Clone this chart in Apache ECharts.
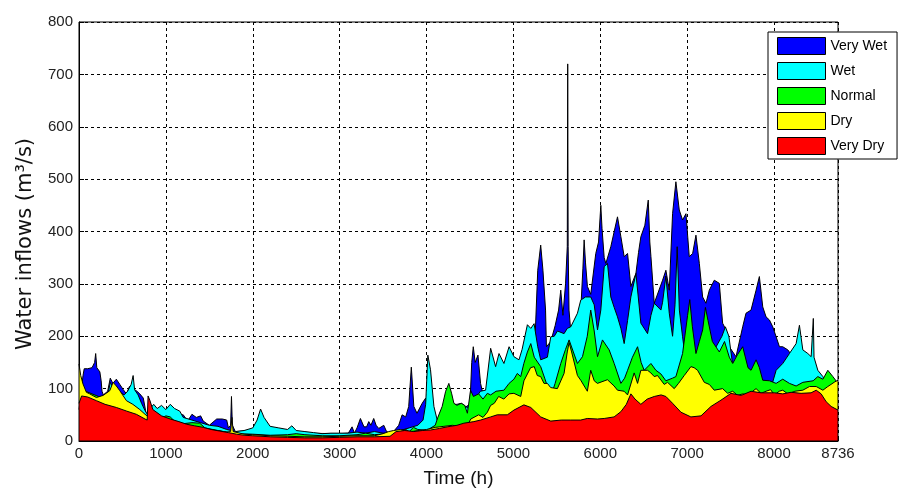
<!DOCTYPE html>
<html><head><meta charset="utf-8">
<script src="https://cdn.jsdelivr.net/npm/echarts@6/dist/echarts.min.js"></script>
<style>html,body{margin:0;padding:0;background:#fff}#c{width:908px;height:491px}</style>
</head><body><div id="c"></div>
<script>
const seriesNames = ['Very Wet', 'Wet', 'Normal', 'Dry', 'Very Dry'];
const xTicks = [0, 1000, 2000, 3000, 4000, 5000, 6000, 7000, 8000, 8736];

// [hour, inflow m3/s]
const veryWet = [[0,60],[30,100],[46,125],[60,138],[100,138],[150,140],[180,150],[192,167],[205,140],[240,132],[255,115],[265,95],[280,88],[330,95],[360,120],[390,110],[430,118],[470,108],[510,98],[546,90],[580,104],[620,100],[660,96],[700,90],[740,82],[770,55],[800,48],[850,55],[900,56],[950,50],[1000,55],[1100,50],[1200,50],[1250,38],[1300,51],[1350,45],[1400,48],[1430,38],[1500,30],[1585,42],[1650,42],[1700,40],[1720,25],[1745,30],[1755,85],[1765,30],[1800,18],[2000,20],[2500,15],[3000,14],[3100,15],[3143,27],[3170,15],[3200,25],[3239,43],[3280,27],[3310,27],[3335,37],[3360,30],[3392,43],[3420,30],[3450,24],[3508,30],[3540,18],[3600,14],[3680,30],[3719,50],[3760,46],[3795,66],[3825,141],[3854,66],[3890,53],[3950,72],[3990,82],[4010,60],[4050,40],[4100,30],[4200,50],[4400,60],[4500,70],[4520,150],[4538,180],[4560,150],[4592,164],[4622,110],[4650,90],[5000,130],[5250,200],[5280,326],[5314,374],[5340,326],[5370,250],[5380,180],[5430,190],[5480,220],[5520,250],[5545,288],[5570,240],[5600,300],[5620,371],[5625,720],[5630,371],[5640,250],[5660,210],[5700,220],[5775,250],[5800,330],[5814,384],[5830,340],[5852,295],[5890,280],[5948,358],[5980,380],[6006,450],[6020,406],[6045,350],[6064,339],[6121,371],[6160,400],[6198,428],[6237,390],[6275,352],[6314,358],[6352,295],[6410,320],[6440,360],[6467,390],[6513,412],[6552,460],[6570,380],[6583,352],[6621,263],[6640,263],[6717,307],[6755,326],[6794,288],[6832,434],[6870,495],[6909,441],[6947,422],[6986,434],[7024,352],[7063,358],[7101,393],[7140,339],[7178,275],[7216,263],[7255,288],[7312,307],[7370,301],[7408,225],[7447,212],[7485,180],[7562,161],[7639,218],[7677,244],[7735,250],[7793,288],[7831,314],[7870,256],[7908,237],[7947,231],[7985,218],[8024,199],[8062,180],[8100,180],[8158,174],[8216,161],[8254,180],[8280,150],[8400,130],[8736,90]];

const wet = [[0,50],[300,80],[340,95],[360,112],[380,105],[420,100],[460,95],[520,88],[560,95],[600,108],[623,125],[640,98],[680,88],[720,72],[760,58],[790,50],[820,62],[860,70],[900,62],[950,68],[1000,60],[1050,70],[1100,62],[1160,57],[1200,45],[1300,40],[1400,35],[1500,30],[1600,28],[1700,22],[1800,18],[1900,20],[2000,25],[2050,40],[2090,61],[2130,45],[2200,28],[2300,25],[2400,22],[2450,29],[2500,20],[2600,18],[2700,16],[2800,14],[2900,15],[3000,15],[3100,15],[3200,17],[3300,15],[3400,18],[3500,15],[3600,15],[3700,20],[3800,25],[3900,30],[3960,40],[3990,70],[4015,164],[4046,136],[4085,66],[4123,40],[4160,55],[4250,70],[4350,70],[4400,72],[4450,66],[4500,60],[4560,80],[4620,95],[4680,97],[4738,177],[4795,142],[4834,167],[4891,148],[4950,180],[5006,161],[5064,155],[5100,175],[5161,222],[5200,215],[5238,224],[5280,180],[5314,155],[5391,160],[5430,199],[5470,200],[5507,210],[5583,205],[5620,215],[5660,218],[5737,244],[5775,269],[5830,275],[5890,275],[5930,260],[5968,212],[6006,250],[6045,333],[6083,339],[6121,275],[6160,255],[6198,237],[6237,215],[6275,186],[6314,230],[6352,275],[6410,320],[6467,225],[6544,205],[6583,240],[6621,263],[6698,250],[6717,265],[6755,315],[6794,244],[6832,200],[6860,260],[6885,371],[6910,250],[6947,199],[6986,150],[7100,150],[7200,160],[7300,170],[7400,200],[7440,218],[7480,200],[7520,150],[7600,150],[7700,140],[7800,120],[7900,110],[7980,110],[8024,135],[8100,148],[8177,167],[8254,186],[8292,221],[8331,174],[8389,167],[8427,161],[8445,160],[8452,234],[8460,160],[8504,135],[8562,123],[8600,110],[8736,100]];

const normal = [[0,100],[300,80],[600,60],[900,40],[960,44],[1000,48],[1050,46],[1100,38],[1200,33],[1300,35],[1390,34],[1450,25],[1600,20],[1700,17],[1800,14],[2000,13],[2200,11],[2400,12],[2500,14],[2600,12],[2800,10],[3000,10],[3200,12],[3300,15],[3400,12],[3600,15],[3700,20],[3760,22],[3800,18],[3850,26],[3900,22],[4000,20],[4100,30],[4130,45],[4180,66],[4220,95],[4257,110],[4290,90],[4315,72],[4350,68],[4400,72],[4440,68],[4470,53],[4507,97],[4540,85],[4600,90],[4650,80],[4700,91],[4738,88],[4800,95],[4891,97],[4950,110],[5006,118],[5045,129],[5084,123],[5120,148],[5161,170],[5200,186],[5240,160],[5314,142],[5360,120],[5430,85],[5480,110],[5545,148],[5600,175],[5641,193],[5690,170],[5737,148],[5795,161],[5850,200],[5890,250],[5930,210],[5968,161],[6025,193],[6102,174],[6160,148],[6237,110],[6280,120],[6314,135],[6370,160],[6429,180],[6470,150],[6505,135],[6583,148],[6640,135],[6698,128],[6755,115],[6832,120],[6870,123],[6947,167],[7005,240],[7030,270],[7060,218],[7101,167],[7140,190],[7178,212],[7210,255],[7240,230],[7290,190],[7370,170],[7430,190],[7485,160],[7524,148],[7580,165],[7639,180],[7700,140],[7735,135],[7793,155],[7831,140],[7870,116],[7947,115],[8024,110],[8100,118],[8177,110],[8254,105],[8331,112],[8450,115],[8504,123],[8562,118],[8619,135],[8677,123],[8736,110]];

const dry = [[0,147],[20,125],[46,109],[85,93],[123,90],[200,83],[277,87],[354,96],[392,112],[430,105],[470,96],[546,77],[620,70],[700,60],[760,51],[785,48],[850,52],[930,40],[1050,36],[1150,31],[1240,27],[1430,23],[1620,19],[1700,17],[1745,18],[1760,45],[1775,18],[1900,13],[2000,12],[2200,10],[2400,9],[2600,8],[2800,8],[3000,9],[3200,10],[3400,10],[3500,14],[3565,18],[3620,20],[3700,22],[3800,17],[3900,20],[4000,22],[4100,26],[4200,28],[4300,30],[4400,27],[4470,30],[4510,42],[4600,50],[4650,45],[4700,55],[4738,68],[4780,72],[4830,85],[4890,80],[4950,90],[5006,91],[5084,85],[5121,115],[5198,140],[5240,142],[5275,125],[5314,123],[5352,110],[5391,110],[5429,102],[5506,100],[5583,129],[5620,170],[5641,188],[5670,170],[5737,125],[5775,116],[5851,95],[5890,135],[5930,115],[5967,110],[6082,117],[6159,105],[6198,97],[6274,95],[6314,88],[6390,130],[6429,110],[6467,135],[6544,135],[6582,130],[6621,123],[6659,125],[6736,108],[6774,112],[6851,100],[6900,110],[6966,125],[7043,142],[7080,140],[7120,135],[7197,112],[7255,108],[7312,97],[7408,100],[7466,91],[7524,95],[7581,87],[7639,90],[7696,88],[7754,95],[7793,100],[7850,91],[7908,95],[7960,98],[8004,88],[8060,95],[8100,97],[8158,90],[8240,95],[8331,97],[8408,104],[8485,104],[8562,97],[8619,104],[8700,113],[8736,116]];

const veryDry = [[0,72],[30,86],[100,84],[200,77],[300,70],[430,64],[550,57],[660,51],[760,42],[785,40],[795,86],[815,78],[850,60],[950,48],[1050,42],[1150,37],[1240,32],[1330,29],[1430,26],[1520,22],[1620,19],[1720,16],[1815,13],[1900,11],[2000,10],[2200,8],[2400,7],[2600,6],[2800,6],[3000,7],[3200,8],[3400,8],[3580,9],[3650,18],[3750,20],[3854,18],[3950,20],[4046,21],[4150,24],[4238,27],[4350,30],[4430,34],[4545,37],[4622,40],[4738,46],[4814,50],[4930,50],[5006,59],[5121,69],[5200,64],[5314,46],[5430,38],[5550,40],[5660,40],[5775,40],[5850,43],[5967,42],[6045,43],[6159,46],[6237,56],[6300,70],[6352,90],[6400,80],[6467,70],[6540,80],[6621,85],[6700,88],[6755,85],[6832,72],[6928,55],[7043,46],[7159,48],[7274,66],[7389,78],[7504,91],[7620,87],[7735,95],[7850,92],[8004,92],[8100,90],[8196,93],[8311,91],[8426,92],[8485,97],[8542,90],[8600,75],[8657,66],[8736,59]];

const fillColors = ['#0000ff', '#00ffff', '#00ff00', '#ffff00', '#ff0000'];
const dataList = [veryWet, wet, normal, dry, veryDry];
const FONT = '"Liberation Sans", Arial, sans-serif';

const chart = echarts.init(document.getElementById('c'), null, {renderer: 'canvas'});
chart.setOption({
  animation: false,
  backgroundColor: '#fff',
  grid: {left: 79, right: 70, top: 22, bottom: 50, show: true, borderColor: '#000', borderWidth: 1,
    backgroundColor: 'transparent', z: 20, containLabel: false, outerBoundsMode: 'none'},
  xAxis: {
    type: 'value', min: 0, max: 8736, interval: 1000,
    name: 'Time (h)', nameLocation: 'middle', nameGap: 28,
    nameTextStyle: {fontSize: 19, color: '#111', fontFamily: FONT},
    axisLine: {show: true, onZero: false, lineStyle: {color: '#000'}},
    axisTick: {show: true, inside: true, length: 5, lineStyle: {color: '#000'}},
    axisLabel: {showMinLabel: true, showMaxLabel: true, fontSize: 15, color: '#222', fontFamily: FONT, margin: 5,
      formatter: v => xTicks.includes(v) ? String(v) : ''},
    splitLine: {show: true, lineStyle: {type: [3, 3], color: '#000', width: 1}}
  },
  yAxis: {
    type: 'value', min: 0, max: 800, interval: 100,
    name: 'Water inflows (m³/s)', nameLocation: 'middle', nameGap: 43,
    nameTextStyle: {fontSize: 21, color: '#111', fontFamily: '"DejaVu Sans", sans-serif', padding: [0, 25, 0, 0]},
    axisLine: {show: true, lineStyle: {color: '#000'}},
    axisTick: {show: true, inside: true, length: 5, lineStyle: {color: '#000'}},
    axisLabel: {fontSize: 15, color: '#222', fontFamily: FONT, margin: 6},
    splitLine: {show: true, lineStyle: {type: [3, 3], color: '#000', width: 1}}
  },
  legend: {
    orient: 'vertical', left: 768, top: 32, z: 30,
    data: seriesNames,
    icon: 'rect', itemWidth: 48, itemHeight: 17, itemGap: 7,
    padding: [5, 10, 4, 9],
    backgroundColor: '#fff', borderColor: '#000', borderWidth: 1,
    itemStyle: {borderColor: '#000', borderWidth: 1},
    textStyle: {fontSize: 14, color: '#000', fontFamily: FONT},
    selectedMode: false
  },
  series: dataList.map((d, i) => ({
    name: seriesNames[i], type: 'line', data: d,
    z: 2 + i,
    symbol: 'none', showSymbol: false, smooth: false,
    lineStyle: {color: '#000', width: 1},
    itemStyle: {color: fillColors[i]},
    areaStyle: {color: fillColors[i], opacity: 1},
    emphasis: {disabled: true}
  }))
});
</script></body></html>
